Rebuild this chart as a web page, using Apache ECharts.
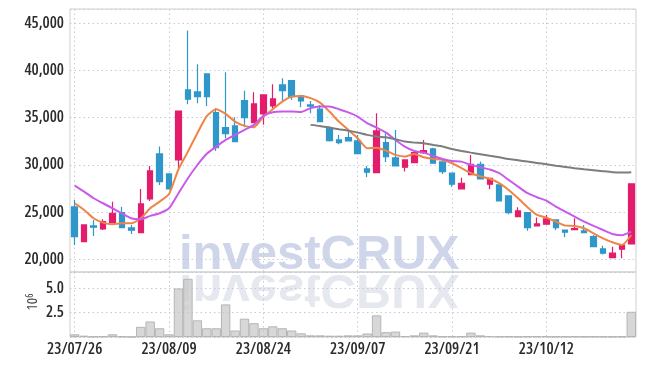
<!DOCTYPE html>
<html>
<head>
<meta charset="utf-8">
<script src="https://cdn.jsdelivr.net/npm/echarts@6/dist/echarts.min.js"></script>
<style>html,body{margin:0;padding:0;background:#fff}#c{width:645px;height:366px}</style>
</head>
<body>
<div id="c"></div>
<script>
const categories = ['23/07/26','23/07/27','23/07/28','23/07/31','23/08/01','23/08/02','23/08/03','23/08/04','23/08/07','23/08/08',
'23/08/09','23/08/10','23/08/11','23/08/14','23/08/16','23/08/17','23/08/18','23/08/21','23/08/22','23/08/23',
'23/08/24','23/08/25','23/08/28','23/08/29','23/08/30','23/08/31','23/09/01','23/09/04','23/09/05','23/09/06',
'23/09/07','23/09/08','23/09/11','23/09/12','23/09/13','23/09/14','23/09/15','23/09/18','23/09/19','23/09/20',
'23/09/21','23/09/22','23/09/25','23/09/26','23/09/27','23/10/04','23/10/05','23/10/06','23/10/10','23/10/11',
'23/10/12','23/10/13','23/10/16','23/10/17','23/10/18','23/10/19','23/10/20','23/10/23','23/10/24','23/10/25'];

const opens = [25540,21860,23530,23210,23880,24940,23320,22820,26390,31150,
29040,30510,37930,37720,39630,35530,33940,34120,36800,34470,
35390,36240,38460,38920,37300,36340,35890,33880,32640,32880,
32530,29570,29180,32350,30730,29750,30230,31290,31680,30310,
29110,27450,28960,30060,27950,27870,26710,24510,24940,23530,
23710,24160,23100,23140,23000,22390,21090,20170,21060,21620];
const closes = [22390,23630,23390,23980,24870,23350,23070,25860,29350,28220,
27450,35700,36950,37220,37220,31820,33300,32460,35000,36450,
37400,36980,37860,37220,36770,36210,34580,32560,32350,32530,
31190,29220,33590,30870,29880,30520,31290,31500,30170,29280,
27950,28050,30060,28500,28580,26180,24940,25120,23350,23740,
24270,23350,22860,23240,22820,21330,20640,20640,21510,27980];
const lows = [21510,21850,22470,23100,23880,23350,22680,22750,26180,27870,
27400,29640,36420,36530,36240,31470,32820,32390,33980,34400,
34230,36000,36690,36870,36100,35470,34580,32460,32180,32530,
31190,28690,29180,30310,29810,29280,30230,31150,30170,29040,
27690,27450,28960,28500,27420,26180,24770,24510,23030,23530,
23710,23100,22330,23140,22820,21330,20490,20170,20110,21620];
const highs = [26280,23650,24160,24240,26100,25570,23630,27450,29880,31930,
29100,35700,44220,40660,39650,36000,39810,35040,37830,37690,
37400,38540,39170,38990,37300,36770,36340,34060,33170,33770,
33170,29880,35470,33350,33700,30520,31290,32640,31820,30310,
29110,28640,31050,30340,28580,27870,26710,25510,24940,24410,
24690,24160,23100,24340,23630,22570,21440,21330,21510,27980];

const ma5 = [25930,25220,24340,23880,23710,23810,23810,24340,25400,26100,
26920,29530,31400,33350,35150,35890,35390,34580,34120,33980,
35110,35890,36690,37220,37300,37060,36590,35640,34580,33700,
32820,31760,31820,31500,31050,30870,31150,30800,30620,30520,
30170,29640,29110,28780,28520,28050,27340,26460,25510,24690,
24410,23980,23560,23530,23280,22750,22220,21800,21510,22570];
const ma10 = [27800,27160,26460,25930,25400,24870,24340,24240,24590,24870,
25400,26990,28580,29980,31170,31930,32640,33170,33700,34230,
35180,35570,35640,35640,35600,36000,36170,36170,35890,35550,
35110,34410,33940,33410,32640,31930,31470,31290,30940,30620,
30410,30340,29990,29750,29500,29110,28400,27690,26990,26570,
26210,25570,25040,24510,23980,23530,23100,22680,22540,22920];
const maLong = [null,null,null,null,null,null,null,null,null,null,
null,null,null,null,null,null,null,null,null,null,
null,null,null,null,null,34230,34120,33940,33770,33620,
33410,33170,32990,32920,32710,32460,32350,32290,32110,31930,
31680,31470,31290,31130,30960,30800,30620,30490,30340,30200,
30060,29910,29780,29640,29530,29430,29320,29220,29180,29220];

const volumesM = [0.28,0.14,0.04,0.07,0.28,0.07,0.02,1.05,1.6,0.9,
0.28,5.0,6.0,1.72,0.9,0.9,3.36,0.67,1.89,1.42,
0.9,1.1,0.9,0.67,0.38,0.17,0.17,0.14,0.14,0.17,
0.17,0.36,2.23,0.5,0.56,0.1,0.17,0.45,0.17,0.07,
0.07,0.07,0.45,0.17,0.1,0.07,0.07,0.05,0.07,0.07,
0.07,0.05,0.05,0.07,0.05,0.07,0.05,0.05,0.05,2.6];

const UP = '#e31c6c', DOWN = '#2f97c9';
const FONT = '"Open Sans", sans-serif';
const labelStyle = {color: '#2b2b2b', fontSize: 16, fontFamily: FONT, fontStyle: 'condensed', fontWeight: 600};
const candleData = categories.map((c, i) => [opens[i], closes[i], lows[i], highs[i]]);

const chart = echarts.init(document.getElementById('c'), null, {renderer: 'canvas'});
const splitStyle = {color: '#c6cadb', type: [1.5, 3], width: 1};

chart.setOption({
  animation: false,
  grid: [
    {left: 70, right: 9, top: 9, height: 263, show: true, borderColor: '#cfcfcf', borderWidth: 1, backgroundColor: 'transparent'},
    {left: 70, right: 9, top: 272, height: 65, show: true, borderColor: '#cfcfcf', borderWidth: 1, backgroundColor: 'transparent'}
  ],
  graphic: [
    {type: 'text', x: 179, y: 272, z: -10, silent: true,
     style: {text: 'investCRUX', x: 0, y: -41.5, font: 'bold 49px "Liberation Sans", Arial, sans-serif', fill: '#d0d6e9', verticalAlign: 'top', textVerticalAlign: 'top'}},
    {type: 'text', x: 179, y: 272, scaleY: -1, z: -10, silent: true,
     style: {text: 'investCRUX', x: 0, y: -41.5, font: 'bold 49px "Liberation Sans", Arial, sans-serif', fill: '#e6e8ef', verticalAlign: 'top', textVerticalAlign: 'top'}},
    {type: 'text', x: 33, y: 302, rotation: Math.PI / 2, silent: true,
     style: {text: '{a|10}{b|6}', align: 'center', verticalAlign: 'middle', textAlign: 'center', textVerticalAlign: 'middle',
       rich: {
         a: {fontSize: 15, fontFamily: FONT, fontStyle: 'condensed', fontWeight: 500, fill: '#444', color: '#444'},
         b: {fontSize: 10, fontFamily: FONT, fontStyle: 'condensed', fontWeight: 500, fill: '#444', color: '#444', verticalAlign: 'top'}}}}
  ],
  xAxis: [
    {type: 'category', gridIndex: 0, data: categories, boundaryGap: true,
     axisLine: {show: false}, axisTick: {show: false}, axisLabel: {show: false},
     splitLine: {show: true, interval: 9, alignWithLabel: true, lineStyle: splitStyle}},
    {type: 'category', gridIndex: 1, data: categories, boundaryGap: true,
     axisLine: {show: false}, axisTick: {show: false},
     axisLabel: Object.assign({interval: 9, margin: 4}, labelStyle),
     splitLine: {show: true, interval: 9, alignWithLabel: true, lineStyle: splitStyle}}
  ],
  yAxis: [
    {type: 'value', gridIndex: 0, min: 18650, max: 46500, splitNumber: 5, scale: true,
     axisLine: {show: false}, axisTick: {show: false},
     axisLabel: Object.assign({margin: 6, showMinLabel: false, showMaxLabel: false,
       formatter: v => v.toLocaleString('en-US')}, labelStyle),
     splitLine: {show: true, lineStyle: splitStyle}},
    {type: 'value', gridIndex: 1, min: 0, max: 6.7, interval: 2.5,
     axisLine: {show: false}, axisTick: {show: false},
     axisLabel: Object.assign({margin: 6, showMinLabel: false, showMaxLabel: false,
       formatter: v => v.toFixed(1)}, labelStyle),
     splitLine: {show: true, lineStyle: splitStyle}}
  ],
  series: [
    {type: 'bar', xAxisIndex: 1, yAxisIndex: 1, data: volumesM, barCategoryGap: '0%',
     itemStyle: {color: 'rgba(200,200,200,0.72)', borderColor: '#b5b5b5', borderWidth: 1}},
    {type: 'candlestick', xAxisIndex: 0, yAxisIndex: 0, data: candleData, barWidth: 6,
     itemStyle: {color: UP, color0: DOWN, borderColor: UP, borderColor0: DOWN, borderWidth: 1.2}},
    {type: 'line', xAxisIndex: 0, yAxisIndex: 0, data: ma5, symbol: 'none', smooth: 0.2,
     lineStyle: {color: '#ef8447', width: 2}, z: 3},
    {type: 'line', xAxisIndex: 0, yAxisIndex: 0, data: ma10, symbol: 'none', smooth: 0.2,
     lineStyle: {color: '#c95ae9', width: 2}, z: 3},
    {type: 'line', xAxisIndex: 0, yAxisIndex: 0, data: maLong, symbol: 'none', smooth: 0.2,
     lineStyle: {color: '#7d7d7d', width: 2}, z: 3}
  ]
});
</script>
</body>
</html>
